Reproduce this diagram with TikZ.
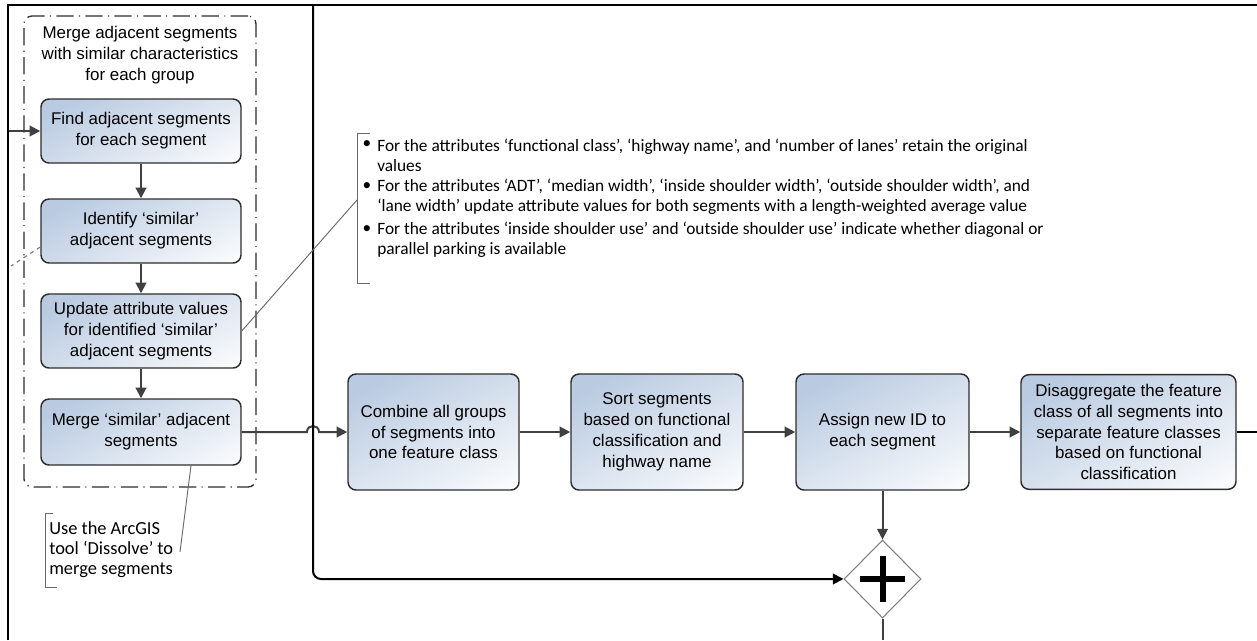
\documentclass[tikz,border=0pt]{standalone}
\usepackage{fontspec}
\setmainfont{Liberation Sans}
\newfontfamily\notefont{Carlito}
\usetikzlibrary{arrows.meta,shapes.geometric}
\definecolor{boxblue}{RGB}{186,203,225}
\definecolor{edgegray}{RGB}{64,64,64}
\definecolor{boxline}{RGB}{45,45,45}
\definecolor{notegray}{RGB}{105,105,105}
% soft diagonal fill of the task boxes: white at 0bp, blue at 100bp
\pgfdeclareverticalshading{taskfade}{100bp}{color(0bp)=(white); color(14bp)=(white); color(76bp)=(boxblue); color(100bp)=(boxblue)}
\begin{document}
\begin{tikzpicture}[x=0.75pt,y=-0.75pt,
  task/.style={draw=boxline, line width=1.1pt, rounded corners=6pt,
    shading=taskfade, shading angle=28, align=center, inner sep=2pt,
    font=\fontsize{12.7}{15.6}\selectfont},
  flow/.style={draw=edgegray, line width=1.5pt, -{Triangle[length=8pt,width=8pt]}},
  blackflow/.style={draw=black, line width=1.5pt, -{Triangle[length=8pt,width=8pt]}},
  plainedge/.style={draw=edgegray, line width=1.5pt},
  group/.style={draw=boxline, line width=1pt, rounded corners=6pt,
    dash pattern=on 13pt off 4pt on 0.8pt off 4pt},
  label/.style={align=center, font=\fontsize{12.7}{15.6}\selectfont},
  note/.style={align=left, inner sep=0pt, font=\notefont\fontsize{13}{15}\selectfont},
  bignote/.style={align=left, inner sep=0pt, font=\notefont\fontsize{13.8}{15}\selectfont},
  noteline/.style={draw=notegray, line width=0.7pt},
  assocline/.style={draw=gray, line width=0.9pt, dashed},
]
\useasboundingbox (0,0) rectangle (1257,640);

% pool border
\draw[line width=2.2pt] (8,640) -- (8,5) -- (1257,5);

% sub-process group
\node[group, minimum width=174pt, minimum height=353.25pt] (grp) at (140,251.5) {};
\node[label] (grptitle) at (140,55) {Merge adjacent segments\\with similar characteristics\\for each group};

% tasks inside the group
\node[task, minimum width=150pt, minimum height=48pt] (find) at (141,131) {Find adjacent segments\\for each segment};
\node[task, minimum width=150pt, minimum height=48pt] (ident) at (141,231) {Identify ‘similar’\\adjacent segments};
\node[task, minimum width=150pt, minimum height=55.5pt] (update) at (141,331) {Update attribute values\\for identified ‘similar’\\adjacent segments};
\node[task, minimum width=150pt, minimum height=49.5pt] (merge) at (141,432) {Merge ‘similar’ adjacent\\segments};

% main row of tasks
\node[task, minimum width=128.25pt, minimum height=87pt] (combine) at (433.5,432) {Combine all groups\\of segments into\\one feature class};
\node[task, minimum width=129pt, minimum height=87pt] (sort) at (657,432) {Sort segments\\based on functional\\classification and\\highway name};
\node[task, minimum width=129.75pt, minimum height=87pt] (assign) at (882.5,432) {Assign new ID to\\each segment};
\node[task, minimum width=161.25pt, minimum height=86pt] (disagg) at (1128.5,432) {Disaggregate the feature\\class of all segments into\\separate feature classes\\based on functional\\classification};

% parallel gateway
\node[diamond, draw=gray, line width=0.8pt, fill=white, inner sep=0pt,
  minimum width=57.75pt, minimum height=58.5pt] (gate) at (882.5,579) {};
\draw[line width=4.5pt] ([xshift=-17pt]gate.center) -- ([xshift=17pt]gate.center);
\draw[line width=4.5pt] ([yshift=-17pt]gate.center) -- ([yshift=17pt]gate.center);

% sequence flows
\coordinate (inlet) at (9,131);
\draw[flow] (inlet) -- (find.west);
\draw[flow] (find.south) -- (ident.north);
\draw[flow] (ident.south) -- (update.north);
\draw[flow] (update.south) -- (merge.north);
\draw[flow] (merge.east) -- (307,432) .. controls (307,424) and (319,424) .. (319,432) -- (combine.west);
\draw[flow] (combine.east) -- (sort.west);
\draw[flow] (sort.east) -- (assign.west);
\draw[flow] (assign.east) -- (disagg.west);
\draw[flow] (assign.south) -- (gate.north);
\coordinate (gateout) at (882.5,640);
\draw[plainedge] (gate.south) -- (gateout);
\coordinate (laneout) at (1257,432);
\draw[black, line width=1.5pt] (disagg.east) -- (laneout);
\coordinate (lanetop) at (313,5);
\draw[blackflow, rounded corners=6pt] (lanetop) |- (gate.west);

% association leaving the group
\coordinate (assocend) at (11,266);
\draw[assocline] ([yshift=-12pt]ident.west) -- (assocend);

% text annotation for attribute updates
\node[note] (dot1) at (367,145) {•};
\node[note, anchor=west] (note1) at (377,155) {For the attributes ‘functional class’, ‘highway name’, and ‘number of lanes’ retain the original\\values};
\node[note] (dot2) at (367,187) {•};
\node[note, anchor=west] (note2) at (377,197) {For the attributes ‘ADT’, ‘median width’, ‘inside shoulder width’, ‘outside shoulder width’, and\\‘lane width’ update attribute values for both segments with a length-weighted average value};
\node[note] (dot3) at (367,230) {•};
\node[note, anchor=west] (note3) at (377,240) {For the attributes ‘inside shoulder use’ and ‘outside shoulder use’ indicate whether diagonal or\\parallel parking is available};
\draw[noteline] (370,133) -- (357,133) -- (357,283) -- (370,283);
\coordinate (notetip) at (357,200);
\draw[noteline] (update.east) -- (notetip);

% text annotation for the merge step
\node[bignote, anchor=west] (dissolve) at (49,550) {Use the ArcGIS\\tool ‘Dissolve’ to\\merge segments};
\draw[noteline] (53,513) -- (45,513) -- (45,587) -- (57,587);
\coordinate (dissolvetip) at (180,552);
\draw[noteline] ([xshift=37.5pt]merge.south) -- (dissolvetip);
\end{tikzpicture}
\end{document}
